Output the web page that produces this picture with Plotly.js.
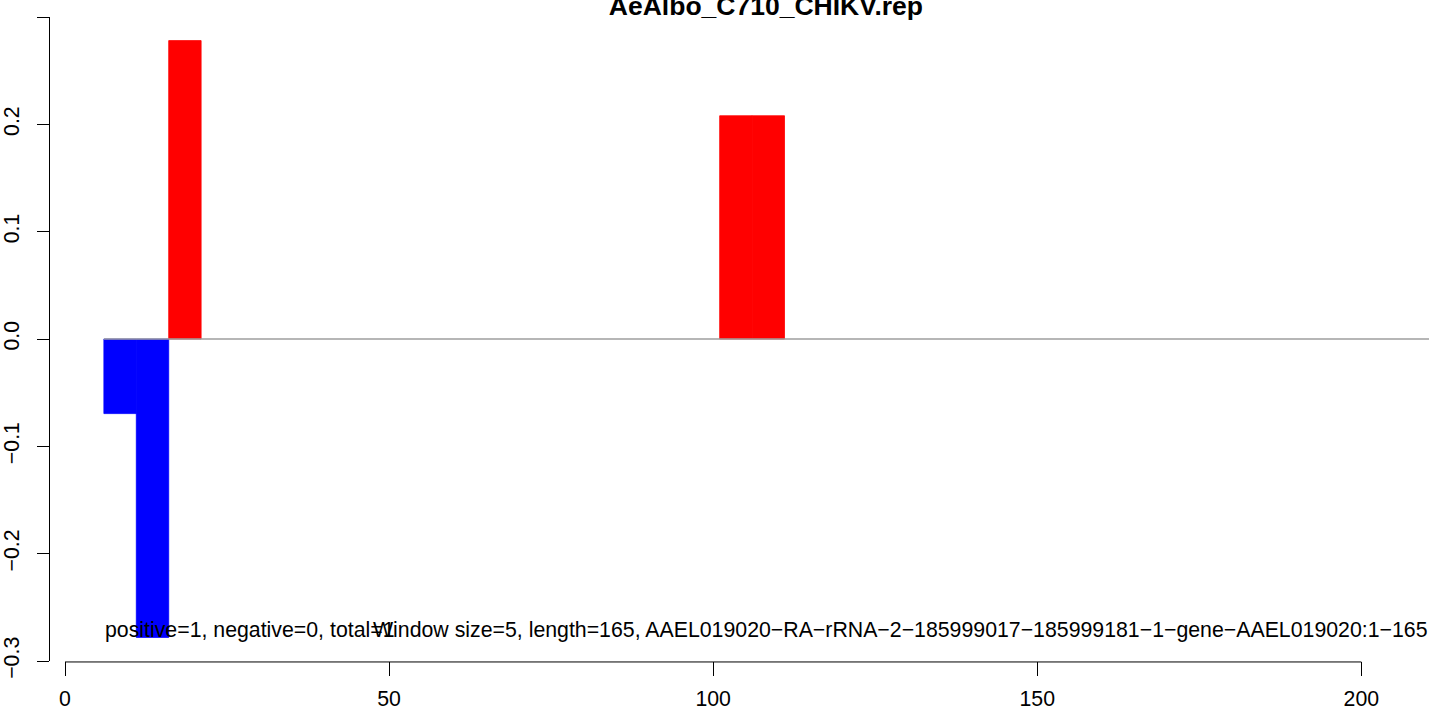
<!DOCTYPE html>
<html>
<head>
<meta charset="utf-8">
<script src="https://cdn.plot.ly/plotly-3.0.1.min.js"></script>
<style>html,body{margin:0;padding:0;background:#fff;}#chart{width:1429px;height:710px;}</style>
</head>
<body>
<div id="chart"></div>
<script>
// ---- data ----
var chartTitle = "AeAlbo_C710_CHIKV.rep";
var windowSize = 5;
var windowStart = [6, 11, 16, 101, 106];
var windowValue = [-0.0695, -0.278, 0.278, 0.208, 0.208];
var xTickVals = [0, 50, 100, 150, 200];
var xTickText = ["0", "50", "100", "150", "200"];
var yTickVals = [-0.3, -0.2, -0.1, 0.0, 0.1, 0.2, 0.3];
var yTickText = ["\u22120.3", "\u22120.2", "\u22120.1", "0.0", "0.1", "0.2", "0.3"];
var countsLabel = "positive=1, negative=0, total=1";
var infoLabel = "Window size=5, length=165, AAEL019020\u2212RA\u2212rRNA\u22122\u2212185999017\u2212185999181\u22121\u2212gene\u2212AAEL019020:1\u2212165";

// ---- build traces ----
var posX = [], posY = [], negX = [], negY = [];
for (var i = 0; i < windowStart.length; i++) {
  var c = windowStart[i] + windowSize / 2;
  if (windowValue[i] >= 0) { posX.push(c); posY.push(windowValue[i]); }
  else { negX.push(c); negY.push(windowValue[i]); }
}
var FONT = "Liberation Sans, Arial, Helvetica, sans-serif";
var TXT = 21.3;
var traces = [
  {type: "bar", x: negX, y: negY, width: windowSize, marker: {color: "#0000FF", line: {width: 0.8, color: "#0000FF"}}, hoverinfo: "x+y", showlegend: false},
  {type: "bar", x: posX, y: posY, width: windowSize, marker: {color: "#FF0000", line: {width: 0.8, color: "#FF0000"}}, hoverinfo: "x+y", showlegend: false}
];

var layout = {
  width: 1429, height: 710,
  margin: {l: 50, r: 0, t: 17, b: 49, pad: 0},
  paper_bgcolor: "#ffffff", plot_bgcolor: "#ffffff",
  font: {family: FONT, size: TXT, color: "#000000"},
  showlegend: false,
  barmode: "overlay",
  title: {
    text: chartTitle,
    font: {family: FONT, size: 26.5, weight: "bold", color: "#000000"},
    x: 0.536, xanchor: "center", xref: "container",
    y: 0.979, yanchor: "bottom", yref: "container"
  },
  xaxis: {
    range: [-2.314, 210.43],
    showgrid: false, zeroline: false, showline: false,
    tickmode: "array", tickvals: xTickVals, ticktext: xTickText,
    ticks: "outside", ticklen: 14, tickwidth: 1, tickcolor: "#000000",
    tickfont: {family: FONT, size: TXT, color: "#000000"},
    ticklabelstandoff: 4
  },
  yaxis: {
    range: [-0.3, 0.3],
    showgrid: false, zeroline: false,
    showline: true, linecolor: "#000000", linewidth: 1,
    tickmode: "array", tickvals: yTickVals, ticktext: yTickText,
    ticks: "outside", ticklen: 12, tickwidth: 1, tickcolor: "#000000",
    tickangle: -90,
    tickfont: {family: FONT, size: TXT, color: "#000000"},
    ticklabelstandoff: 9
  },
  shapes: [
    {type: "line", xref: "x", yref: "y", x0: windowStart[0], x1: 215, y0: 0, y1: 0,
     line: {color: "#9E9E9E", width: 1.5}, layer: "above"},
    {type: "line", xref: "x", yref: "paper", x0: xTickVals[0], x1: xTickVals[xTickVals.length - 1], y0: -0.0015, y1: -0.0015,
     line: {color: "#000000", width: 1}}
  ],
  annotations: [
    {text: countsLabel, xref: "x", yref: "y", x: windowStart[0], y: -0.2714,
     xanchor: "left", yanchor: "middle", showarrow: false, borderpad: 0,
     font: {family: FONT, size: TXT, color: "#000000"}},
    {text: infoLabel, xref: "x", yref: "y", x: 47.3, y: -0.2714,
     xanchor: "left", yanchor: "middle", showarrow: false, borderpad: 0,
     font: {family: FONT, size: TXT, color: "#000000"}}
  ]
};

Plotly.newPlot("chart", traces, layout, {displayModeBar: false, staticPlot: true});
</script>
</body>
</html>
